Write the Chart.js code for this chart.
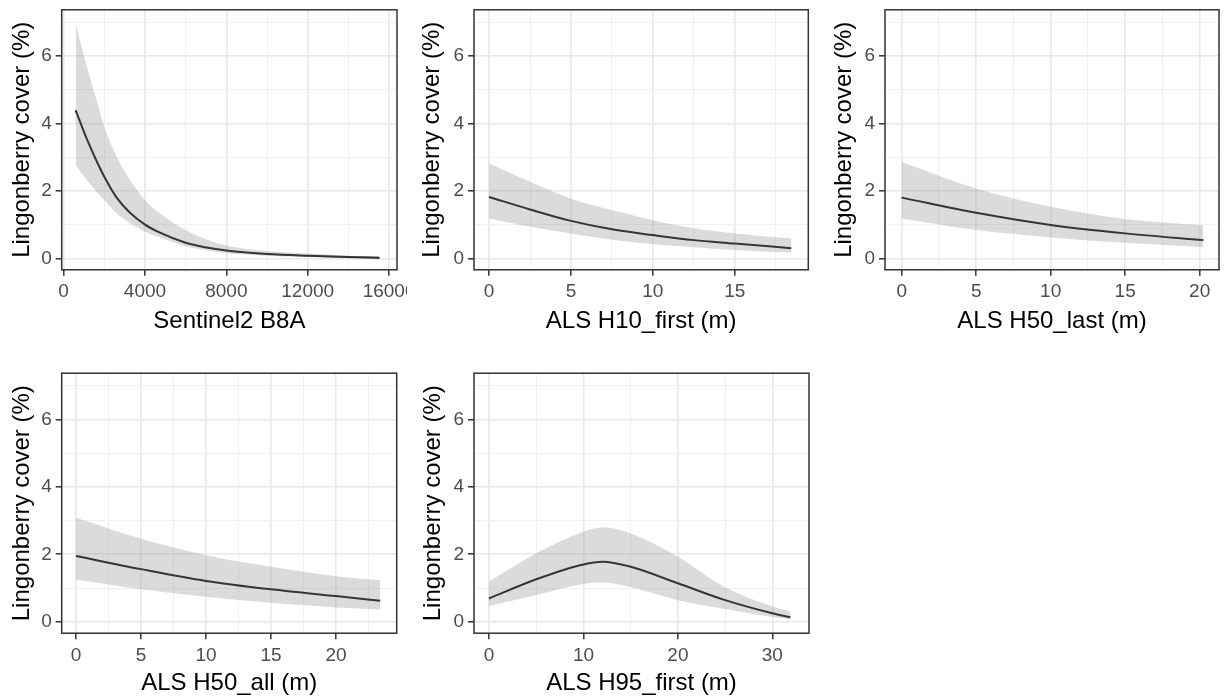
<!DOCTYPE html>
<html>
<head>
<meta charset="utf-8">
<script src="https://cdn.jsdelivr.net/npm/chart.js@4.4.1/dist/chart.umd.min.js"></script>
<style>
  html, body { margin: 0; padding: 0; background: #ffffff; }
  #wrap { position: relative; width: 1225px; height: 698px; overflow: hidden; background: #ffffff; }
  #wrap canvas { position: absolute; }
</style>
</head>
<body>
<div id="wrap">
  <canvas id="p1" width="407" height="349" style="left:0px;top:0px"></canvas>
  <canvas id="p2" width="408" height="349" style="left:408px;top:0px"></canvas>
  <canvas id="p3" width="408" height="349" style="left:817px;top:0px"></canvas>
  <canvas id="p4" width="407" height="349" style="left:0px;top:349px"></canvas>
  <canvas id="p5" width="408" height="349" style="left:408px;top:349px"></canvas>
</div>
<script>
// shared y axis
const yTitle = 'Lingonberry cover (%)';
const yMin = -0.34;
const yMax = 7.37;

// Sentinel2 B8A
const b8aX     = [593, 1134, 1625, 2000, 2608, 3263, 4000, 4737, 6000, 7031, 8000, 9000, 10000, 12000, 14000, 15530];
const b8aFit   = [4.39, 3.55, 2.88, 2.42, 1.80, 1.35, 1.00, 0.76, 0.46, 0.32, 0.23, 0.17, 0.13, 0.08, 0.04, 0.02];
const b8aUpper = [6.95, 5.70, 4.68, 3.90, 3.01, 2.32, 1.73, 1.33, 0.84, 0.56, 0.38, 0.28, 0.22, 0.14, 0.08, 0.04];
const b8aLower = [2.76, 2.32, 1.97, 1.73, 1.33, 1.04, 0.79, 0.62, 0.36, 0.24, 0.15, 0.11, 0.08, 0.04, 0.02, 0.00];

// ALS H10_first
const h10FirstX     = [0, 2.5, 5, 7.5, 10, 12.5, 15, 18.45];
const h10FirstFit   = [1.82, 1.45, 1.11, 0.86, 0.69, 0.54, 0.44, 0.30];
const h10FirstUpper = [2.81, 2.27, 1.77, 1.43, 1.13, 0.89, 0.74, 0.59];
const h10FirstLower = [1.18, 0.94, 0.74, 0.55, 0.42, 0.33, 0.25, 0.17];

// ALS H50_last
const h50LastX     = [0, 5, 10, 15, 20.25];
const h50LastFit   = [1.80, 1.35, 0.99, 0.74, 0.54];
const h50LastUpper = [2.86, 2.07, 1.53, 1.17, 0.98];
const h50LastLower = [1.18, 0.84, 0.62, 0.46, 0.33];

// ALS H50_all
const h50AllX     = [0, 5, 10, 15, 20, 23.4];
const h50AllFit   = [1.95, 1.56, 1.21, 0.96, 0.76, 0.62];
const h50AllUpper = [3.08, 2.46, 1.97, 1.63, 1.35, 1.23];
const h50AllLower = [1.25, 0.96, 0.74, 0.56, 0.42, 0.36];

// ALS H95_first
const h95FirstX     = [0, 5, 10, 12, 15, 20, 25, 30, 31.9];
const h95FirstFit   = [0.69, 1.26, 1.70, 1.78, 1.63, 1.14, 0.64, 0.25, 0.13];
const h95FirstUpper = [1.19, 2.03, 2.67, 2.80, 2.62, 1.93, 1.02, 0.45, 0.30];
const h95FirstLower = [0.47, 0.79, 1.12, 1.16, 1.02, 0.64, 0.38, 0.14, 0.07];

const fontFamily = "'Liberation Sans', Arial, sans-serif";
const gridMajor = '#e8e8e8';
const gridMinor = '#f0f0f0';
const bandFill = 'rgba(153,153,153,0.35)';

function isMajor(v, step) {
    const r = v / step;
    return Math.abs(r - Math.round(r)) < 1e-6;
}

function toPoints(xs, ys) {
    return xs.map((x, i) => ({ x: x, y: ys[i] }));
}

// chart.js stretches big step sizes to fit min/max, so set the breaks by hand
function setBreaks(step) {
    return scale => {
        const ticks = [];
        for (let k = Math.ceil(scale.min / step); k * step <= scale.max; k++) {
            ticks.push({ value: +(k * step).toFixed(6) });
        }
        scale.ticks = ticks;
    };
}

// fixed axis size, and no extra room for labels hanging past the panel
function fixSize(key, size) {
    return scale => {
        scale[key] = size;
        scale.paddingLeft = 0;
        scale.paddingRight = 0;
        scale.paddingTop = 0;
        scale.paddingBottom = 0;
    };
}

// box around the panel, like theme_bw
const panelBorder = {
    id: 'panelBorder',
    afterDatasetsDraw(chart) {
        const a = chart.chartArea;
        const ctx = chart.ctx;
        ctx.save();
        ctx.strokeStyle = '#333333';
        ctx.lineWidth = 1.5;
        ctx.strokeRect(a.left, a.top, a.right - a.left, a.bottom - a.top);
        ctx.restore();
    }
};

function gridFor(step) {
    return {
        color: c => (c.tick && isMajor(c.tick.value, step)) ? gridMajor : gridMinor,
        lineWidth: c => (c.tick && isMajor(c.tick.value, step)) ? 1.6 : 1,
        tickLength: 6,
        tickWidth: 1.5,
        tickColor: c => (c.tick && isMajor(c.tick.value, step)) ? '#333333' : 'rgba(0,0,0,0)'
    };
}

function makePanel(id, p) {
    const ctx = document.getElementById(id);
    return new Chart(ctx, {
        type: 'line',
        data: {
            datasets: [
                {
                    data: toPoints(p.x, p.upper),
                    borderWidth: 0,
                    borderColor: 'rgba(0,0,0,0)',
                    backgroundColor: bandFill,
                    fill: '+1',
                    pointRadius: 0,
                    cubicInterpolationMode: 'monotone'
                },
                {
                    data: toPoints(p.x, p.lower),
                    borderWidth: 0,
                    borderColor: 'rgba(0,0,0,0)',
                    fill: false,
                    pointRadius: 0,
                    cubicInterpolationMode: 'monotone'
                },
                {
                    data: toPoints(p.x, p.fit),
                    borderColor: '#000000',
                    borderWidth: 2,
                    fill: false,
                    pointRadius: 0,
                    cubicInterpolationMode: 'monotone'
                }
            ]
        },
        options: {
            responsive: false,
            animation: false,
            devicePixelRatio: 1,
            layout: {
                autoPadding: false,
                padding: { left: 0, right: p.padRight, top: p.padTop, bottom: p.padBottom }
            },
            plugins: {
                legend: { display: false },
                tooltip: { enabled: false }
            },
            scales: {
                x: {
                    type: 'linear',
                    min: p.xMin,
                    max: p.xMax,
                    afterBuildTicks: setBreaks(p.xMinor),
                    afterFit: fixSize('height', p.xAxisHeight),
                    border: { display: false },
                    grid: gridFor(p.xMajor),
                    ticks: {
                        autoSkip: false,
                        maxRotation: 0,
                        padding: 5,
                        color: '#4d4d4d',
                        font: { family: fontFamily, size: 19 },
                        callback: v => isMajor(v, p.xMajor) ? String(v) : ''
                    },
                    title: {
                        display: true,
                        text: p.xTitle,
                        color: '#000000',
                        font: { family: fontFamily, size: 24 },
                        padding: { top: 0, bottom: 0 }
                    }
                },
                y: {
                    min: yMin,
                    max: yMax,
                    afterBuildTicks: setBreaks(1),
                    afterFit: fixSize('width', p.yAxisWidth),
                    border: { display: false },
                    grid: gridFor(2),
                    ticks: {
                        autoSkip: false,
                        padding: 4,
                        color: '#4d4d4d',
                        font: { family: fontFamily, size: 19 },
                        callback: v => isMajor(v, 2) ? String(v) : ''
                    },
                    title: {
                        display: true,
                        text: yTitle,
                        color: '#000000',
                        font: { family: fontFamily, size: 24 },
                        padding: { top: p.yTitlePad, bottom: 0 }
                    }
                }
            }
        },
        plugins: [panelBorder]
    });
}

const topRow = { padTop: 9.8, padBottom: 13.6, xAxisHeight: 65.6 };
const bottomRow = { padTop: 24.2, padBottom: 0.6, xAxisHeight: 64.2 };

makePanel('p1', Object.assign({
    x: b8aX, fit: b8aFit, upper: b8aUpper, lower: b8aLower,
    xTitle: 'Sentinel2 B8A', xMin: -95, xMax: 16390, xMinor: 2000, xMajor: 4000,
    yAxisWidth: 61.7, padRight: 10, yTitlePad: 8.2
}, topRow));

makePanel('p2', Object.assign({
    x: h10FirstX, fit: h10FirstFit, upper: h10FirstUpper, lower: h10FirstLower,
    xTitle: 'ALS H10_first (m)', xMin: -0.92, xMax: 19.49, xMinor: 2.5, xMajor: 5,
    yAxisWidth: 66, padRight: 7.7, yTitlePad: 10.2
}, topRow));

makePanel('p3', Object.assign({
    x: h50LastX, fit: h50LastFit, upper: h50LastUpper, lower: h50LastLower,
    xTitle: 'ALS H50_last (m)', xMin: -1.12, xMax: 21.3, xMinor: 2.5, xMajor: 5,
    yAxisWidth: 68, padRight: 6, yTitlePad: 12.6
}, topRow));

makePanel('p4', Object.assign({
    x: h50AllX, fit: h50AllFit, upper: h50AllUpper, lower: h50AllLower,
    xTitle: 'ALS H50_all (m)', xMin: -1.1, xMax: 24.67, xMinor: 2.5, xMajor: 5,
    yAxisWidth: 61.7, padRight: 10.3, yTitlePad: 8.2
}, bottomRow));

makePanel('p5', Object.assign({
    x: h95FirstX, fit: h95FirstFit, upper: h95FirstUpper, lower: h95FirstLower,
    xTitle: 'ALS H95_first (m)', xMin: -1.59, xMax: 33.88, xMinor: 5, xMajor: 10,
    yAxisWidth: 66, padRight: 7, yTitlePad: 10.6
}, bottomRow));
</script>
</body>
</html>
